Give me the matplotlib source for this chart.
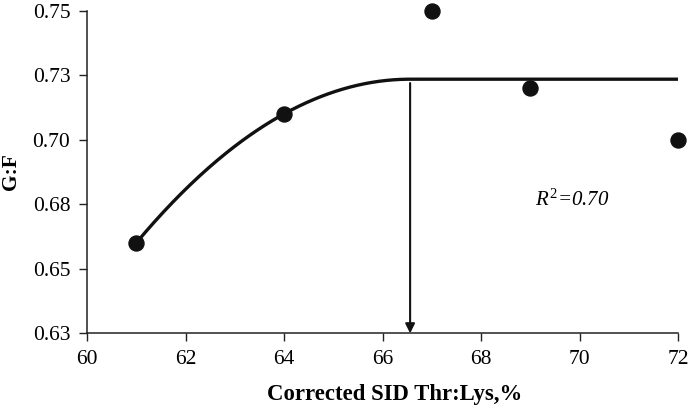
import numpy as np
import matplotlib
matplotlib.use("Agg")
import matplotlib.pyplot as plt
from matplotlib.ticker import FuncFormatter

plt.rcParams["font.family"] = ["Liberation Serif", "DejaVu Serif"]
plt.rcParams["mathtext.fontset"] = "custom"
plt.rcParams["mathtext.it"] = "Liberation Serif:italic"
plt.rcParams["mathtext.rm"] = "Liberation Serif"

# observed means
thr_lys = [61, 64, 67, 69, 72]
gf = [0.660, 0.710, 0.750, 0.720, 0.700]

# quadratic-plateau fit
plateau = 0.7234
breakpoint = 66.56
curvature = 0.00205
r2_label = "$R^2$=0.70"

x_ticks = [60, 62, 64, 66, 68, 70, 72]
y_ticks = [0.625, 0.65, 0.675, 0.70, 0.725, 0.75]

fig = plt.figure(figsize=(6.88, 4.12), dpi=100)
ax = fig.add_axes([0.1265, 0.191, 0.859, 0.7835])

xs = np.linspace(thr_lys[0], thr_lys[-1], 300)
ys = np.where(xs < breakpoint, plateau - curvature * (breakpoint - xs) ** 2, plateau)
ax.plot(xs, ys, color="#111111", lw=2.4, solid_capstyle="butt", zorder=2)

ax.plot(thr_lys, gf, "o", color="#111111", ms=10.8, clip_on=False, zorder=3)

ax.annotate("", xy=(breakpoint, 0.625), xytext=(breakpoint, plateau - 0.0015),
            arrowprops=dict(arrowstyle="-|>", color="#111111", lw=1.5,
                            mutation_scale=14, shrinkA=0, shrinkB=0))

ax.text(69.85, 0.6767, r2_label, fontsize=15, style="italic", ha="center", va="center")

ax.set_xlim(60, 72)
ax.set_ylim(0.625, 0.75)
ax.set_xticks(x_ticks)
ax.set_yticks(y_ticks)
ax.yaxis.set_major_formatter(FuncFormatter(lambda v, p: f"{v + 1e-9:.2f}"))
ax.tick_params(direction="out", length=6, width=1, labelsize=15.5, color="#222222", pad=6)

for s in ["top", "right"]:
    ax.spines[s].set_visible(False)
for s in ["left", "bottom"]:
    ax.spines[s].set_linewidth(1.1)
    ax.spines[s].set_color("#222222")

ax.set_xlabel("Corrected SID Thr:Lys,%", fontsize=16.4, fontweight="bold", va="center")
ax.set_ylabel("G:F", fontsize=15.5, fontweight="bold", va="center")
ax.xaxis.set_label_coords(0.521, -0.191)
ax.yaxis.set_label_coords(-0.1285, 0.5)

fig.savefig("out.png", dpi=100)
